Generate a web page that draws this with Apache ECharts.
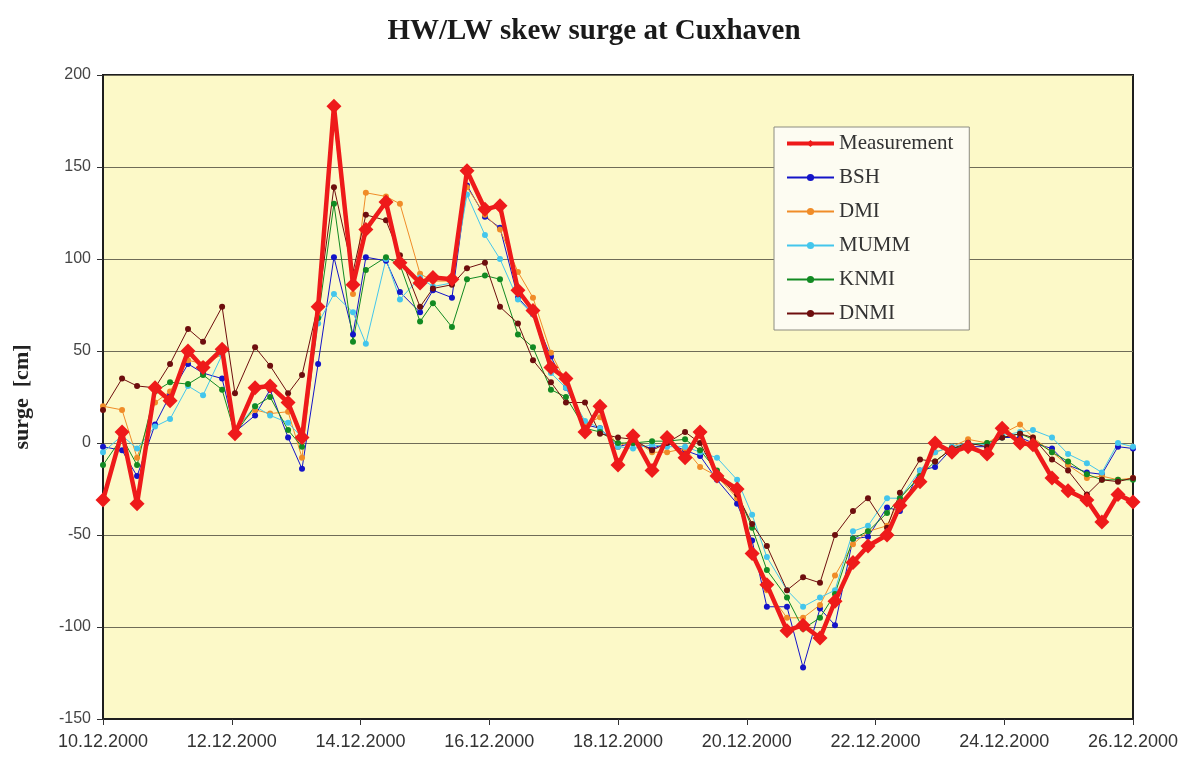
<!DOCTYPE html>
<html>
<head>
<meta charset="utf-8">
<script src="https://cdn.jsdelivr.net/npm/echarts@6/dist/echarts.min.js"></script>
<style>
html,body{margin:0;padding:0;background:#fff;}
#chart{width:1188px;height:765px;}
</style>
</head>
<body>
<div id="chart"></div>
<script>
// hours since 10.12.2000 00:00 (HW / LW times)
const hours = [0, 7.1, 12.7, 19.4, 25.0, 31.7, 37.3, 44.4, 49.2, 56.7, 62.3, 69.0, 74.2, 80.2, 86.1, 93.2, 98.0, 105.5, 110.7, 118.2, 123.0, 130.1, 135.7, 142.4, 148.0, 154.7, 160.3, 167.0, 172.6, 179.7, 185.3, 192.0, 197.6, 204.7, 210.3, 217.0, 222.6, 228.9, 236.4, 242.0, 247.5, 255.0, 261.0, 267.3, 272.9, 279.6, 285.2, 292.3, 297.1, 304.6, 310.2, 316.5, 322.5, 329.6, 335.2, 341.9, 346.7, 353.8, 359.8, 366.8, 372.4, 378.4, 384];

const measurement = [
  -31, 6, -33, 30, 23, 50, 41, 51, 5, 30,
  31, 22, 3, 74, 183, 86, 116, 131, 98, 87,
  90, 89, 148, 127, 129, 83, 72, 41, 35, 6,
  20, -12, 4, -15, 3, -8, 6, -18, -25, -60,
  -77, -102, -99, -106, -86, -65, -56, -50, -34, -21,
  0, -5, -2, -6, 8, 0, -1, -19, -26, -31,
  -43, -28, -32];
const bsh = [
  -2, -4, -18, 10, 26, 43, 38, 35, 6, 15,
  29, 3, -14, 43, 101, 59, 101, 99, 82, 71,
  83, 79, 140, 123, 117, 79, 70, 47, 30, 10,
  8, -2, 0, -3, 0, -4, -7, -20, -33, -53,
  -89, -89, -122, -90, -99, -52, -51, -35, -37, -15,
  -13, -3, -2, -2, 3, 3, 0, -3, -12, -16,
  -17, -2, -3];
const dmi = [
  20, 18, -8, 22, 28, 45, 43, 48, 8, 18,
  16, 17, -8, 70, 176, 81, 136, 134, 130, 92,
  88, 88, 139, 124, 116, 93, 79, 49, 33, 10,
  14, -2, 2, -5, -5, -3, -13, -18, -30, -59,
  -80, -95, -95, -88, -72, -55, -48, -45, -30, -18,
  -5, -2, 2, 0, 5, 10, 3, -5, -12, -19,
  -18, -20, -19];
const mumm = [
  -5, 4, -3, 9, 13, 31, 26, 48, 7, 20,
  15, 11, 3, 65, 81, 71, 54, 100, 78, 90,
  85, 87, 135, 113, 100, 78, 70, 38, 30, 12,
  8, -2, -3, -1, -2, -2, -5, -8, -20, -39,
  -62, -80, -89, -84, -80, -48, -45, -30, -30, -15,
  -5, -2, 0, -1, 4, 6, 7, 3, -6, -11,
  -16, 0, -2];
const knmi = [
  -12, 3, -12, 28, 33, 32, 37, 29, 5, 20,
  25, 7, -2, 68, 130, 55, 94, 101, 97, 66,
  76, 63, 89, 91, 89, 59, 52, 29, 25, 8,
  6, 0, 0, 1, 1, 2, -4, -15, -27, -46,
  -69, -84, -101, -95, -82, -52, -48, -38, -30, -18,
  -10, -3, -1, 0, 3, 5, 2, -5, -10, -17,
  -20, -20, -20];
const dnmi = [
  18, 35, 31, 30, 43, 62, 55, 74, 27, 52,
  42, 27, 37, 75, 139, 93, 124, 121, 102, 74,
  84, 86, 95, 98, 74, 65, 45, 33, 22, 22,
  5, 3, 2, -4, 0, 6, 0, -18, -28, -44,
  -56, -80, -73, -76, -50, -37, -30, -46, -27, -9,
  -10, -3, 0, -2, 3, 5, 3, -9, -15, -28,
  -20, -21, -19];

const seriesNames = ['Measurement', 'BSH', 'DMI', 'MUMM', 'KNMI', 'DNMI'];
const xTickHours = [0, 48, 96, 144, 192, 240, 288, 336, 384];
const yTicks = [-150, -100, -50, 0, 50, 100, 150, 200];

function pts(vals) { return hours.map((h, i) => [h, vals[i]]); }
function thin(name, vals, color) {
  return {
    name: name, type: 'line', data: pts(vals),
    symbol: 'circle', symbolSize: 6,
    lineStyle: { color: color, width: 1 },
    itemStyle: { color: color },
    z: 2
  };
}

const chart = echarts.init(document.getElementById('chart'));
chart.setOption({
  animation: false,
  backgroundColor: '#ffffff',
  title: {
    text: 'HW/LW skew surge at Cuxhaven',
    left: 'center', top: 12,
    textStyle: { fontFamily: 'Liberation Serif', fontWeight: 'bold', fontSize: 29, color: '#1a1a1a' }
  },
  grid: {
    left: 103, right: 55, top: 75, bottom: 46,
    show: true, backgroundColor: '#fcf9c8', borderColor: '#1e1e1e', borderWidth: 2
  },
  legend: {
    orient: 'vertical', left: 774, top: 127,
    data: [
      { name: 'Measurement', lineStyle: { width: 4 } },
      'BSH', 'DMI', 'MUMM', 'KNMI', 'DNMI'
    ],
    itemWidth: 47, itemHeight: 9, itemGap: 13,
    padding: [6, 16, 6, 11],
    backgroundColor: '#fdfcf2', borderColor: '#8c8c80', borderWidth: 1,
    textStyle: { fontFamily: 'Liberation Serif', fontSize: 21, color: '#333' }
  },
  xAxis: {
    type: 'value', min: 0, max: 384, interval: 48,
    axisLine: { show: true, onZero: false, lineStyle: { color: '#1e1e1e', width: 2 } },
    axisTick: { show: true, length: 6, lineStyle: { color: '#333' } },
    splitLine: { show: false },
    axisLabel: {
      margin: 14, fontFamily: 'Liberation Sans', fontSize: 18, color: '#333',
      formatter: function (v) {
        const d = 10 + Math.round(v / 24);
        return d + '.12.2000';
      }
    }
  },
  yAxis: {
    type: 'value', min: -150, max: 200, interval: 50,
    name: 'surge  [cm]', nameLocation: 'middle', nameGap: 70, nameRotate: 90,
    nameTextStyle: { fontFamily: 'Liberation Serif', fontWeight: 'bold', fontSize: 22, color: '#222' },
    axisLine: { show: true, lineStyle: { color: '#1e1e1e', width: 2 } },
    axisTick: { show: true, length: 6, lineStyle: { color: '#333' } },
    splitLine: { show: true, lineStyle: { color: '#6f6c58', width: 1.2 } },
    axisLabel: { margin: 12, fontFamily: 'Liberation Sans', fontSize: 16, color: '#444' }
  },
  series: [
    thin('BSH', bsh, '#1414c8'),
    thin('DMI', dmi, '#f08c28'),
    thin('MUMM', mumm, '#44c6ec'),
    thin('KNMI', knmi, '#128a22'),
    thin('DNMI', dnmi, '#6e0e0e'),
    {
      name: 'Measurement', type: 'line', data: pts(measurement),
      symbol: 'diamond', symbolSize: [15, 15],
      lineStyle: { color: '#ee1a1a', width: 4.5 },
      itemStyle: { color: '#ee1a1a' },
      z: 5
    }
  ]
});
</script>
</body>
</html>
